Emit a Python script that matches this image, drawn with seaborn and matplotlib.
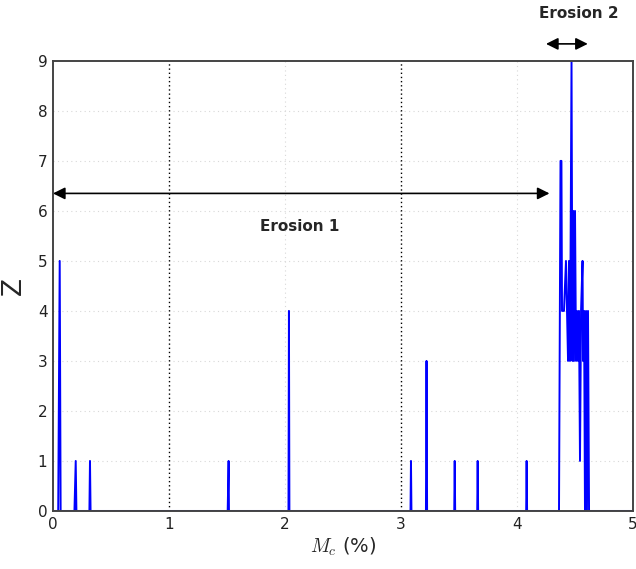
import matplotlib
matplotlib.use("Agg")
import matplotlib.pyplot as plt
import seaborn as sns
import pandas as pd

# Mc (%) positions and Z values of the trace
mc = [0.0, 0.045, 0.058, 0.066,
      0.185, 0.196, 0.202,
      0.314, 0.319, 0.324,
      1.506, 1.514, 1.517,
      2.030, 2.034, 2.038,
      3.082, 3.086, 3.090,
      3.215, 3.220, 3.225,
      3.459, 3.463, 3.467,
      3.657, 3.661, 3.665,
      4.079, 4.083, 4.087,
      4.362, 4.375, 4.383, 4.388, 4.405, 4.422, 4.431, 4.440, 4.448, 4.457,
      4.470, 4.478, 4.483, 4.491, 4.500, 4.509, 4.517, 4.526, 4.534, 4.543,
      4.552, 4.565, 4.569, 4.578, 4.586, 4.595, 4.603, 4.612, 4.621, 5.0]
z = [0, 0, 5, 0,
     0, 1, 0,
     0, 1, 0,
     0, 1, 0,
     0, 4, 0,
     0, 1, 0,
     0, 3, 0,
     0, 1, 0,
     0, 1, 0,
     0, 1, 0,
     0, 7, 7, 4, 4, 5, 4, 3, 5, 3,
     9, 3, 6, 3, 6, 3, 4, 3, 4, 1,
     4, 5, 3, 4, 0, 4, 0, 4, 0, 0]

xticks = [0, 1, 2, 3, 4, 5]
yticks = [0, 1, 2, 3, 4, 5, 6, 7, 8, 9]

df = pd.DataFrame({"Mc": mc, "Z": z})

sns.set_style("white")
plt.rcParams["mathtext.fontset"] = "cm"
fig = plt.figure(figsize=(6.36, 5.69), dpi=100)
ax = fig.add_axes([0.0833, 0.102, 0.912, 0.791])

# grid
for yv in yticks[1:-1]:
    ax.axhline(yv, color="#d8d8d8", lw=0.8, ls=(0, (1, 3)), zorder=0)
for xv in [2, 4]:
    ax.axvline(xv, color="#d8d8d8", lw=0.8, ls=(0, (1, 3)), zorder=0)
for xv in [1, 3]:
    ax.axvline(xv, color="black", lw=1.0, ls=(0, (1, 2)), zorder=1)

sns.lineplot(data=df, x="Mc", y="Z", estimator=None, sort=False,
             color="#0000ff", lw=1.4, ax=ax, zorder=2)

ax.set_xlim(0, 5)
ax.set_ylim(0, 9)
ax.set_xticks(xticks)
ax.set_yticks(yticks)
ax.tick_params(axis="both", labelsize=11, length=0, pad=4, colors="#222222")
ax.set_xlabel(r"$M_c$ (%)", fontsize=14, labelpad=3)
ax.set_ylabel("Z", fontsize=19, labelpad=8)
for s in ax.spines.values():
    s.set_color("#444444")
    s.set_linewidth(1.4)
    s.set_zorder(4)

# annotations
ax.annotate("", xy=(0.0, 6.35), xytext=(4.28, 6.35),
            arrowprops=dict(arrowstyle="<|-|>", color="black", lw=1.2,
                            mutation_scale=18, shrinkA=0, shrinkB=0))
ax.text(2.13, 5.68, "Erosion 1", fontsize=11, fontweight="bold",
        ha="center", va="center")
ax.annotate("", xy=(4.25, 9.34), xytext=(4.61, 9.34), annotation_clip=False,
            arrowprops=dict(arrowstyle="<|-|>", color="black", lw=1.2,
                            mutation_scale=18, shrinkA=0, shrinkB=0))
ax.text(4.53, 9.94, "Erosion 2", fontsize=11, fontweight="bold",
        ha="center", va="center", clip_on=False)

fig.savefig("out.png", dpi=100)
